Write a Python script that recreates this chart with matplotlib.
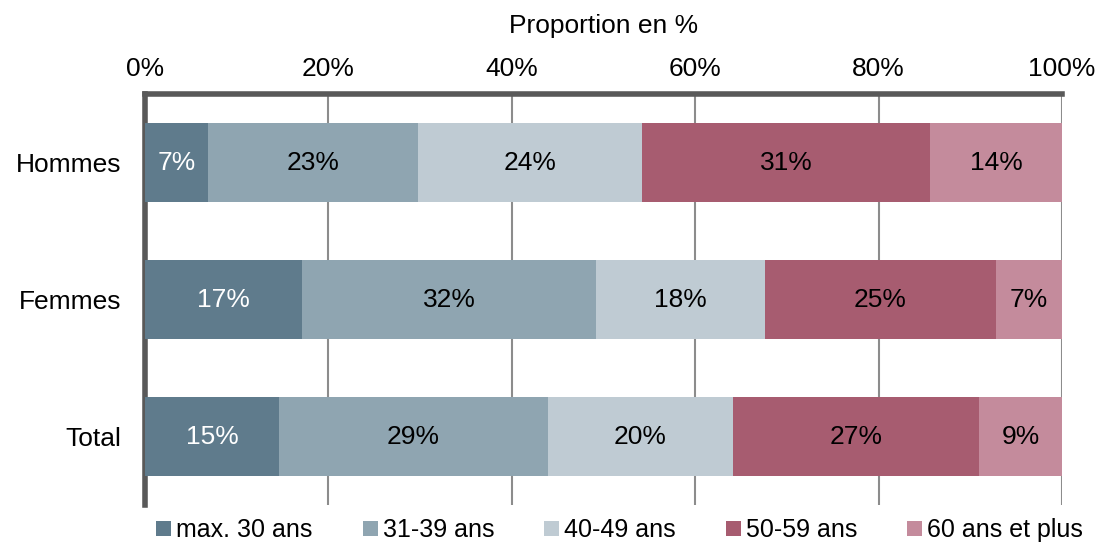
import numpy as np
import matplotlib.pyplot as plt
from matplotlib.patches import Patch

plt.rcParams['font.family'] = ['Liberation Sans', 'DejaVu Sans']

# Répartition par âge (en %)
groupes = ['Hommes', 'Femmes', 'Total']
classes = ['max. 30 ans', '31-39 ans', '40-49 ans', '50-59 ans', '60 ans et plus']
max30 = [6.9, 17.1, 14.6]
a31_39 = [22.9, 32.1, 29.3]
a40_49 = [24.4, 18.4, 20.2]
a50_59 = [31.4, 25.2, 26.9]
a60plus = [14.4, 7.2, 9.0]

series = [max30, a31_39, a40_49, a50_59, a60plus]
couleurs = ['#5f7b8c', '#8fa5b1', '#bfcbd3', '#a75c70', '#c48b9c']
couleurs_texte = ['white', 'black', 'black', 'black', 'black']

fig = plt.figure(figsize=(10.97, 5.51), dpi=100)
ax = fig.add_axes([145 / 1097, 46 / 551, 917 / 1097, 411 / 551])

y = np.arange(len(groupes))
gauche = np.zeros(len(groupes))
for vals, c, tc in zip(series, couleurs, couleurs_texte):
    vals = np.array(vals)
    ax.barh(y, vals, left=gauche, height=0.57, color=c, zorder=3)
    for yi, l, v in zip(y, gauche, vals):
        ax.text(l + v / 2, yi, f'{v:.0f}%', ha='center', va='center',
                fontsize=19, color=tc, zorder=4)
    gauche += vals

ax.set_xlim(0, 100)
ax.set_ylim(2.5, -0.5)
ax.set_yticks(y)
ax.set_yticklabels(groupes, fontsize=19)
ax.set_xticks(np.arange(0, 101, 20))
ax.set_xticklabels([f'{v}%' for v in range(0, 101, 20)], fontsize=19)
ax.xaxis.tick_top()
ax.xaxis.set_label_position('top')
ax.set_xlabel('Proportion en %', fontsize=19, labelpad=18)
ax.tick_params(axis='x', length=0, pad=9)
ax.tick_params(axis='y', length=0, pad=17)

ax.grid(axis='x', color='#8c8c8c', linewidth=1.5, zorder=0)
for s in ['right', 'bottom']:
    ax.spines[s].set_visible(False)
for s in ['left', 'top']:
    ax.spines[s].set_color('#595959')
    ax.spines[s].set_linewidth(4)

poignees = [Patch(facecolor=c, label=l) for c, l in zip(couleurs, classes)]
fig.legend(handles=poignees, loc='lower center', ncol=5, frameon=False,
           fontsize=18, handlelength=0.6, handleheight=0.6, handletextpad=0.2,
           columnspacing=2.0, bbox_to_anchor=(0.565, -0.025))

fig.savefig('out.png', dpi=100)
